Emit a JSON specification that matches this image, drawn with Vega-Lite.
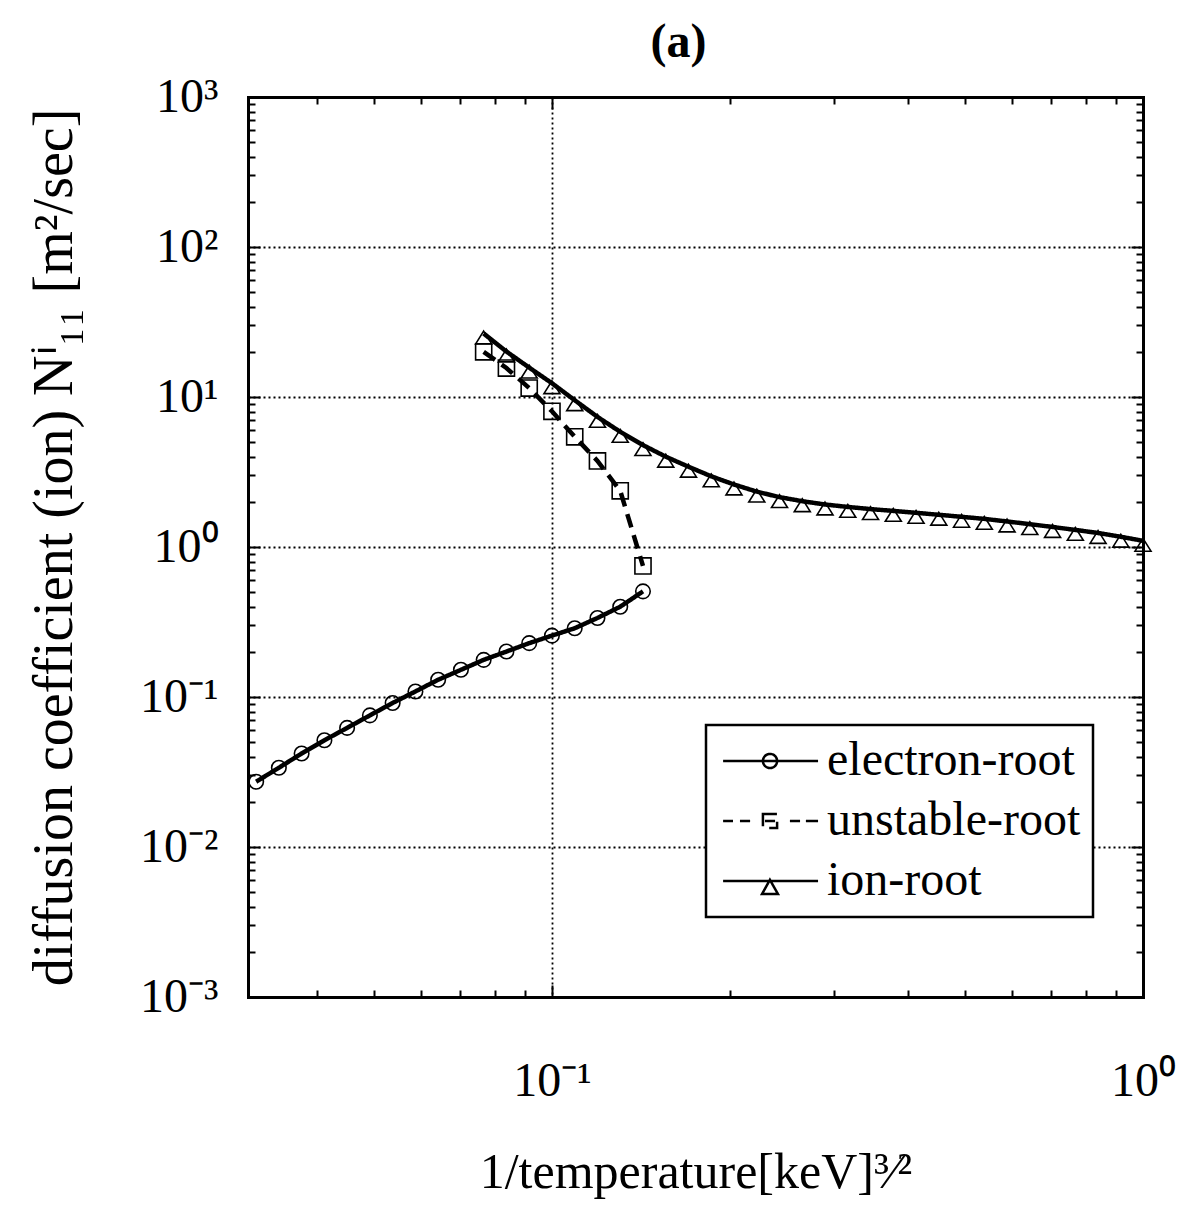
{
  "$schema": "https://vega.github.io/schema/vega-lite/v6.json",
  "width": 895,
  "height": 900,
  "autosize": {"type": "none"},
  "padding": {"left": 248, "top": 97, "right": 46, "bottom": 216},
  "background": "white",
  "title": {
    "text": "(a)",
    "font": "Liberation Serif",
    "fontSize": 48,
    "fontWeight": "bold",
    "color": "black",
    "anchor": "middle",
    "frame": "group",
    "baseline": "bottom",
    "dx": -17,
    "offset": -42
  },
  "datasets": {
    "curves": [
      {"series": "electron-root", "x": 0.03159, "y": 0.02724},
      {"series": "electron-root", "x": 0.03451, "y": 0.03375},
      {"series": "electron-root", "x": 0.03771, "y": 0.04201},
      {"series": "electron-root", "x": 0.04121, "y": 0.05148},
      {"series": "electron-root", "x": 0.04502, "y": 0.06223},
      {"series": "electron-root", "x": 0.04920, "y": 0.07544},
      {"series": "electron-root", "x": 0.05376, "y": 0.09123},
      {"series": "electron-root", "x": 0.05875, "y": 0.1089},
      {"series": "electron-root", "x": 0.06419, "y": 0.1303},
      {"series": "electron-root", "x": 0.07015, "y": 0.1518},
      {"series": "electron-root", "x": 0.07664, "y": 0.1769},
      {"series": "electron-root", "x": 0.08375, "y": 0.2009},
      {"series": "electron-root", "x": 0.09152, "y": 0.2285},
      {"series": "electron-root", "x": 0.1, "y": 0.2566},
      {"series": "electron-root", "x": 0.10927, "y": 0.2873},
      {"series": "electron-root", "x": 0.11940, "y": 0.3364},
      {"series": "electron-root", "x": 0.13047, "y": 0.3999},
      {"series": "electron-root", "x": 0.14256, "y": 0.5061},
      {"series": "unstable-root", "x": 0.07664, "y": 20.0},
      {"series": "unstable-root", "x": 0.08375, "y": 15.6},
      {"series": "unstable-root", "x": 0.09152, "y": 11.47},
      {"series": "unstable-root", "x": 0.1, "y": 8.03},
      {"series": "unstable-root", "x": 0.10927, "y": 5.43},
      {"series": "unstable-root", "x": 0.11940, "y": 3.75},
      {"series": "unstable-root", "x": 0.13047, "y": 2.37},
      {"series": "unstable-root", "x": 0.14256, "y": 0.748},
      {"series": "ion-root", "x": 0.07664, "y": 26.5},
      {"series": "ion-root", "x": 0.08375, "y": 20.1},
      {"series": "ion-root", "x": 0.09152, "y": 15.7},
      {"series": "ion-root", "x": 0.1, "y": 12.35},
      {"series": "ion-root", "x": 0.10927, "y": 9.52},
      {"series": "ion-root", "x": 0.11940, "y": 7.37},
      {"series": "ion-root", "x": 0.13047, "y": 5.86},
      {"series": "ion-root", "x": 0.14256, "y": 4.78},
      {"series": "ion-root", "x": 0.15578, "y": 4.00},
      {"series": "ion-root", "x": 0.17022, "y": 3.43},
      {"series": "ion-root", "x": 0.18600, "y": 2.96},
      {"series": "ion-root", "x": 0.20324, "y": 2.61},
      {"series": "ion-root", "x": 0.22209, "y": 2.34},
      {"series": "ion-root", "x": 0.24266, "y": 2.15},
      {"series": "ion-root", "x": 0.26516, "y": 2.02},
      {"series": "ion-root", "x": 0.28973, "y": 1.92},
      {"series": "ion-root", "x": 0.31659, "y": 1.85},
      {"series": "ion-root", "x": 0.34594, "y": 1.79},
      {"series": "ion-root", "x": 0.37801, "y": 1.74},
      {"series": "ion-root", "x": 0.41305, "y": 1.69},
      {"series": "ion-root", "x": 0.45134, "y": 1.64},
      {"series": "ion-root", "x": 0.49317, "y": 1.59},
      {"series": "ion-root", "x": 0.53888, "y": 1.54},
      {"series": "ion-root", "x": 0.58884, "y": 1.48},
      {"series": "ion-root", "x": 0.64343, "y": 1.42},
      {"series": "ion-root", "x": 0.70307, "y": 1.36},
      {"series": "ion-root", "x": 0.76824, "y": 1.30},
      {"series": "ion-root", "x": 0.83946, "y": 1.24},
      {"series": "ion-root", "x": 0.91728, "y": 1.17},
      {"series": "ion-root", "x": 1.0, "y": 1.10}
    ]
  },
  "data": {"name": "curves"},
  "layer": [
    {
      "mark": {"type": "line", "color": "black", "strokeWidth": 4.5, "strokeCap": "butt"},
      "encoding": {
        "x": {
          "field": "x", "type": "quantitative",
          "scale": {"type": "log", "domain": [0.0306, 1], "nice": false},
          "axis": {
            "orient": "bottom",
            "values": [0.1, 1],
            "labelExpr": "datum.value < 0.5 ? '10⁻¹' : '10⁰'",
            "labelFontSize": 48,
            "labelPadding": 72,
            "labelFlush": false,
            "labelOverlap": false,
            "grid": true, "gridColor": "black", "gridDash": [2, 3], "gridWidth": 1.8, "gridOpacity": 1,
            "tickSize": -12, "tickWidth": 2,
            "domainWidth": 3,
            "title": "1/temperature[keV]³⁄²",
            "titleFontSize": 50,
            "titlePadding": 42
          }
        },
        "y": {
          "field": "y", "type": "quantitative",
          "scale": {"type": "log", "domain": [0.001, 1000], "nice": false},
          "axis": {
            "orient": "left",
            "values": [0.001, 0.01, 0.1, 1, 10, 100, 1000],
            "labelExpr": "datum.value > 500 ? '10³' : datum.value > 50 ? '10²' : datum.value > 5 ? '10¹' : datum.value > 0.5 ? '10⁰' : datum.value > 0.05 ? '10⁻¹' : datum.value > 0.005 ? '10⁻²' : '10⁻³'",
            "labelFontSize": 48,
            "labelPadding": 42,
            "labelOverlap": false,
            "labelFlush": false,
            "grid": true, "gridColor": "black", "gridDash": [2, 3], "gridWidth": 1.8, "gridOpacity": 1,
            "tickSize": -12, "tickWidth": 2,
            "domainWidth": 3,
            "title": "diffusion coefficient (ion)  Nⁱ₁₁ [m²/sec]",
            "titleFontSize": 56,
            "titlePadding": 56
          }
        },
        "strokeDash": {
          "field": "series", "type": "nominal",
          "scale": {"domain": ["electron-root", "unstable-root", "ion-root"], "range": [[1, 0], [14, 8], [1, 0]]},
          "legend": {
            "title": null,
            "orient": "none",
            "legendX": 458,
            "legendY": 628,
            "padding": 12,
            "strokeColor": "black",
            "fillColor": "white",
            "rowPadding": 12,
            "labelFont": "Liberation Serif",
            "labelFontSize": 48,
            "labelColor": "black",
            "labelOffset": 61,
            "labelLimit": 400,
            "symbolSize": 2025,
            "symbolStrokeWidth": 2.5,
            "symbolStrokeColor": "black",
            "encode": {
              "legend": {"update": {"strokeWidth": {"value": 2.5}}},
              "symbols": {
                "update": {
                  "shape": {"signal": "datum.value === 'electron-root' ? 'M-0.84,0L3.38,0M1.56,0A0.31,0.31 0 1 1 0.93,0A0.31,0.31 0 1 1 1.56,0' : datum.value === 'unstable-root' ? 'M-0.84,0L-0.4,0M-0.09,0L0.36,0M2.13,0L2.58,0M2.84,0L3.38,0M0.93,-0.31L1.56,-0.31L1.56,0.31L0.93,0.31ZM1.02,0L1.47,0' : 'M-0.84,0L3.38,0M1.24,-0.05L1.6,0.58L0.89,0.58Z'"},
                  "size": {"value": 2025},
                  "strokeDash": {"value": [1, 0]},
                  "strokeWidth": {"value": 2.5},
                  "stroke": {"value": "black"},
                  "fill": {"value": "transparent"},
                  "opacity": {"value": 1}
                }
              }
            }
          }
        }
      }
    },
    {
      "transform": [{"filter": "datum.series === 'electron-root'"}],
      "mark": {"type": "point", "shape": "circle", "size": 210, "filled": false, "stroke": "black", "strokeWidth": 1.6, "opacity": 1},
      "encoding": {
        "x": {
          "field": "x", "type": "quantitative",
          "scale": {"type": "log", "domain": [0.0306, 1], "nice": false},
          "axis": {"orient": "bottom", "values": [0.04, 0.05, 0.06, 0.07, 0.08, 0.09, 0.2, 0.3, 0.4, 0.5, 0.6, 0.7, 0.8, 0.9], "labels": false, "domain": false, "grid": false, "tickSize": -7, "tickWidth": 2, "title": null}
        },
        "y": {
          "field": "y", "type": "quantitative",
          "scale": {"type": "log", "domain": [0.001, 1000], "nice": false},
          "axis": {"orient": "left", "values": [0.002, 0.003, 0.004, 0.005, 0.006, 0.007, 0.008, 0.009, 0.02, 0.03, 0.04, 0.05, 0.06, 0.07, 0.08, 0.09, 0.2, 0.3, 0.4, 0.5, 0.6, 0.7, 0.8, 0.9, 2, 3, 4, 5, 6, 7, 8, 9, 20, 30, 40, 50, 60, 70, 80, 90, 200, 300, 400, 500, 600, 700, 800, 900], "labels": false, "domain": false, "grid": false, "tickSize": -7, "tickWidth": 2, "title": null}
        }
      }
    },
    {
      "transform": [{"filter": "datum.series === 'unstable-root'"}],
      "mark": {"type": "point", "shape": "square", "size": 260, "filled": false, "stroke": "black", "strokeWidth": 1.6, "opacity": 1},
      "encoding": {
        "x": {
          "field": "x", "type": "quantitative",
          "scale": {"type": "log", "domain": [0.0306, 1], "nice": false},
          "axis": {"orient": "top", "values": [0.1, 1], "labels": false, "domain": true, "domainWidth": 3, "grid": false, "tickSize": -12, "tickWidth": 2, "minExtent": 0, "title": null}
        },
        "y": {
          "field": "y", "type": "quantitative",
          "scale": {"type": "log", "domain": [0.001, 1000], "nice": false},
          "axis": {"orient": "right", "values": [0.001, 0.01, 0.1, 1, 10, 100, 1000], "labels": false, "domain": true, "domainWidth": 3, "grid": false, "tickSize": -12, "tickWidth": 2, "title": null}
        }
      }
    },
    {
      "transform": [{"filter": "datum.series === 'ion-root'"}],
      "mark": {"type": "point", "shape": "M0,-0.3L1,1.3L-1,1.3Z", "size": 256, "filled": false, "stroke": "black", "strokeWidth": 1.6, "opacity": 1},
      "encoding": {
        "x": {
          "field": "x", "type": "quantitative",
          "scale": {"type": "log", "domain": [0.0306, 1], "nice": false},
          "axis": {"orient": "top", "values": [0.04, 0.05, 0.06, 0.07, 0.08, 0.09, 0.2, 0.3, 0.4, 0.5, 0.6, 0.7, 0.8, 0.9], "labels": false, "domain": false, "grid": false, "tickSize": -7, "tickWidth": 2, "minExtent": 0, "title": null}
        },
        "y": {
          "field": "y", "type": "quantitative",
          "scale": {"type": "log", "domain": [0.001, 1000], "nice": false},
          "axis": {"orient": "right", "values": [0.002, 0.003, 0.004, 0.005, 0.006, 0.007, 0.008, 0.009, 0.02, 0.03, 0.04, 0.05, 0.06, 0.07, 0.08, 0.09, 0.2, 0.3, 0.4, 0.5, 0.6, 0.7, 0.8, 0.9, 2, 3, 4, 5, 6, 7, 8, 9, 20, 30, 40, 50, 60, 70, 80, 90, 200, 300, 400, 500, 600, 700, 800, 900], "labels": false, "domain": false, "grid": false, "tickSize": -7, "tickWidth": 2, "title": null}
        }
      }
    }
  ],
  "resolve": {"axis": {"x": "independent", "y": "independent"}},
  "config": {
    "view": {"stroke": null},
    "font": "Liberation Serif",
    "axis": {
      "domainColor": "black",
      "tickColor": "black",
      "labelColor": "black",
      "titleColor": "black",
      "labelFont": "Liberation Serif",
      "titleFont": "Liberation Serif",
      "titleFontWeight": "normal",
      "domainCap": "square"
    }
  }
}
